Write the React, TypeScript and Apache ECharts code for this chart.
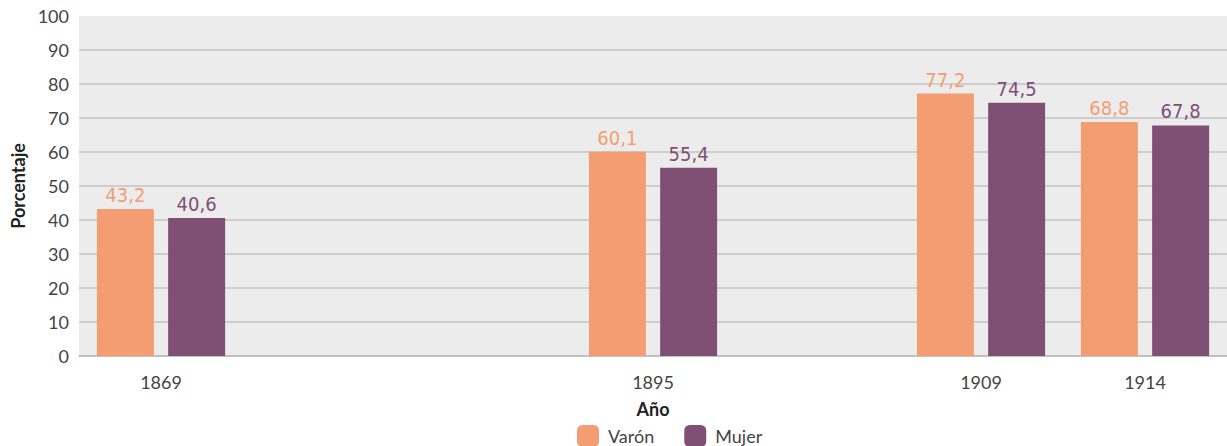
import React, { useEffect, useRef } from "react";
import * as echarts from "echarts";

const categories = ["1869", "", "", "1895", "", "1909", "1914"];
const varon = [43.2, null, null, 60.1, null, 77.2, 68.8];
const mujer = [40.6, null, null, 55.4, null, 74.5, 67.8];
const seriesNames = ["Varón", "Mujer"];
const colors = ["#f49d73", "#7f5074"];

const fmt = (v: number) => v.toFixed(1).replace(".", ",");

export default function App() {
  const ref = useRef<HTMLDivElement>(null);
  useEffect(() => {
    if (!ref.current) return;
    const chart = echarts.init(ref.current, null, { renderer: "svg" });
    const labelFont = {
      fontFamily: "'Liberation Sans Narrow', 'DejaVu Sans Condensed', sans-serif",
      fontSize: 20,
    };
    chart.setOption({
      animation: false,
      textStyle: { fontFamily: "Lato, sans-serif" },
      grid: {
        left: 79,
        right: -6,
        top: 16,
        bottom: 90,
        show: true,
        backgroundColor: "#ececec",
        borderWidth: 0,
      },
      legend: {
        top: 420,
        left: 572,
        itemWidth: 22,
        itemHeight: 22,
        itemGap: 30,
        icon: "roundRect",
        data: seriesNames,
        textStyle: {
          color: "#444",
          fontSize: 18,
          lineHeight: 18,
          fontFamily: "Lato, sans-serif",
          padding: [0, 0, 0, 4],
        },
      },
      xAxis: {
        type: "category",
        data: categories,
        name: "Año",
        nameLocation: "middle",
        nameGap: 44,
        nameTextStyle: { color: "#222", fontSize: 18, fontWeight: "bold" },
        axisLine: { lineStyle: { color: "#bbbbbb", width: 1.5 } },
        axisTick: { show: false },
        axisLabel: { color: "#444", fontSize: 18, margin: 17, interval: 0 },
      },
      yAxis: {
        type: "value",
        min: 0,
        max: 100,
        interval: 10,
        name: "Porcentaje",
        nameLocation: "middle",
        nameGap: 52,
        nameTextStyle: { color: "#222", fontSize: 18, fontWeight: "bold" },
        axisLine: { show: false },
        axisTick: { show: false },
        axisLabel: { color: "#444", fontSize: 18, margin: 10 },
        splitLine: { showMaxLine: false, lineStyle: { color: "#c4c4c4", width: 1.5 } },
      },
      series: [
        {
          name: seriesNames[0],
          type: "bar",
          data: varon,
          barWidth: 57,
          barGap: "25%",
          itemStyle: { color: colors[0] },
          label: {
            show: true,
            position: "top",
            distance: 4,
            color: colors[0],
            ...labelFont,
            formatter: (p: any) => fmt(p.value),
          },
        },
        {
          name: seriesNames[1],
          type: "bar",
          data: mujer,
          barWidth: 57,
          barGap: "25%",
          itemStyle: { color: colors[1] },
          label: {
            show: true,
            position: "top",
            distance: 4,
            color: colors[1],
            ...labelFont,
            formatter: (p: any) => fmt(p.value),
          },
        },
      ],
    });
    return () => chart.dispose();
  }, []);
  return (
    <div
      ref={ref}
      style={{ position: "fixed", left: 0, top: 0, width: 1227, height: 446, background: "#fff" }}
    />
  );
}
